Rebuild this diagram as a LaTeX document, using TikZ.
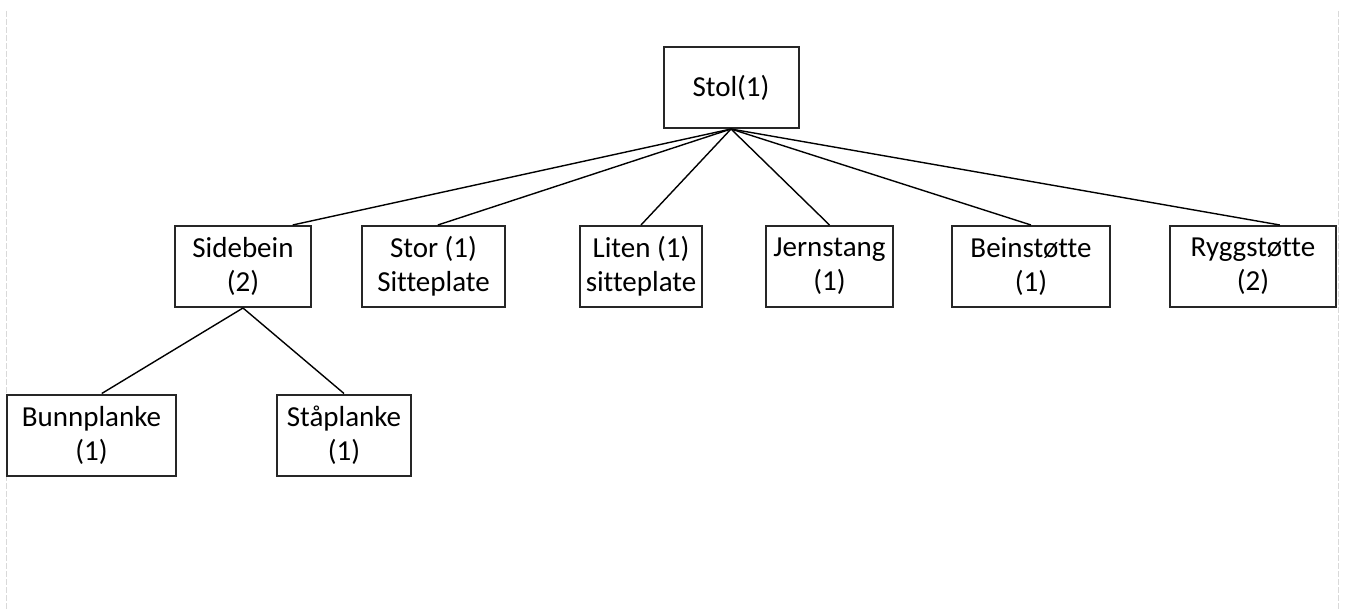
\documentclass[tikz,border=0pt]{standalone}
\usepackage{fontspec}
\setmainfont{Carlito}[Ligatures={NoCommon}]
\usetikzlibrary{calc}
\begin{document}
\begin{tikzpicture}[x=1pt,y=-1pt,
  part/.style={draw=black!85,line width=2pt,rectangle,inner sep=0pt,
    align=center,font=\fontsize{29}{34}\selectfont,minimum height=81pt},
  link/.style={draw=black,line width=1.4pt},
  guide/.style={draw=black!15,line width=0.9pt,dash pattern=on 6pt off 2pt}]
\useasboundingbox (0,0) rectangle (1346,610);
% page margin guides
\draw[guide] (6,11) -- (6,610);
\draw[guide] (1338,11) -- (1338,610);
% root
\node[part,minimum width=135pt] (stol) at (731,87.5) {Stol(1)};
% second level
\node[part,minimum width=136pt] (side) at (243,266.5) {Sidebein\\(2)};
\node[part,minimum width=143pt] (stor) at (433.5,266.5) {Stor (1)\\Sitteplate};
\node[part,minimum width=122pt] (liten) at (641,266.5) {Liten (1)\\sitteplate};
\node[part,minimum width=127pt] (jern) at (829.5,266.5) {Jernstang\\(1)};
\node[part,minimum width=158pt] (bein) at (1031,266.5) {Beinstøtte\\(1)};
\node[part,minimum width=166pt] (rygg) at (1253,266.5) {Ryggstøtte\\(2)};
% third level
\node[part,minimum width=169pt] (bunn) at (91.5,435) {Bunnplanke\\(1)};
\node[part,minimum width=134pt] (staa) at (344,435) {Ståplanke\\(1)};
% connectors
\draw[link] (stol.south) -- ($(side.north west)!0.86!(side.north east)$);
\draw[link] (stol.south) -- ($(stor.north west)!0.53!(stor.north east)$);
\draw[link] (stol.south) -- (liten.north);
\draw[link] (stol.south) -- (jern.north);
\draw[link] (stol.south) -- (bein.north);
\draw[link] (stol.south) -- ($(rygg.north west)!0.66!(rygg.north east)$);
\draw[link] (side.south) -- ($(bunn.north west)!0.56!(bunn.north east)$);
\draw[link] (side.south) -- (staa.north);
\end{tikzpicture}
\end{document}
